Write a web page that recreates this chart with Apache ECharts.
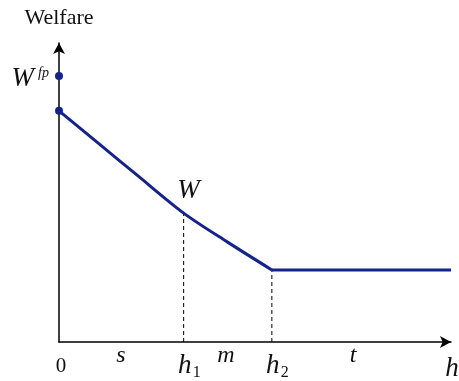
<!DOCTYPE html>
<html><head><meta charset="utf-8">
<script src="https://cdn.jsdelivr.net/npm/echarts@6/dist/echarts.min.js"></script>
<style>html,body{margin:0;padding:0;background:#fff}#c{width:459px;height:381px}</style>
</head><body><div id="c"></div>
<script>
// welfare curve W(h): declining segment then flat segment
const curveX = [0, 10, 20, 31.8, 43, 54.3];
const curveY = [77.3, 66.5, 55.7, 43.1, 33.4, 24.1];
const flatX = [54.3, 100];
const flatY = [24.1, 24.1];
// highlighted points on the vertical axis: W^fp and W(0)
const pointX = [0, 0];
const pointY = [89.0, 77.3];
// dashed guides at h1 and h2
const dashX = [31.8, 54.3];
const dashTopY = [43.1, 24.1];
// horizontal axis labels
const tickNames = ['0', 's', 'h', 'm', 'h', 't', 'h'];
const tickSubs  = ['',  '',  '1', '',  '2', '',  ''];
const tickX     = [0, 15.8, 31.8, 42.6, 54.3, 75.0, 100];
// curve label
const curveLabel = 'W';
const curveLabelX = 32.0;
const yAxisName = 'Welfare';
const fpLabel = ['W', 'fp'];

const BLUE = '#14228c';
const FONT = '"Liberation Serif", "DejaVu Serif", serif';

const chart = echarts.init(document.getElementById('c'), null, {renderer: 'canvas'});

const series = [];
dashX.forEach((x, i) => {
  series.push({
    type: 'line', data: [[x, 0], [x, dashTopY[i]]], symbol: 'none', silent: true, z: 1,
    lineStyle: {color: '#000', width: 1, type: [4, 3]}
  });
});
const lineStyle = {color: BLUE, width: 3, cap: 'butt', join: 'round'};
series.push({
  type: 'line', data: curveX.map((x, i) => [x, curveY[i]]), symbol: 'none', z: 3,
  smooth: 0.3, lineStyle: lineStyle, clip: false
});
series.push({
  type: 'line', data: flatX.map((x, i) => [x, flatY[i]]), symbol: 'none', z: 3,
  lineStyle: lineStyle, clip: false
});
series.push({
  type: 'scatter', data: pointX.map((x, i) => [x, pointY[i]]), symbolSize: 8, z: 4,
  itemStyle: {color: BLUE, opacity: 1}, clip: false
});

chart.setOption({
  animation: false,
  backgroundColor: '#fff',
  grid: {left: 59, right: 8, top: 43, bottom: 39},
  xAxis: {
    type: 'value', min: 0, max: 100,
    axisLine: {onZero: false, symbol: ['none', 'arrow'], symbolSize: [9, 11], lineStyle: {color: '#000', width: 1.5}},
    axisTick: {show: false}, axisLabel: {show: false}, splitLine: {show: false}
  },
  yAxis: {
    type: 'value', min: 0, max: 100,
    axisLine: {show: true, onZero: false, symbol: ['none', 'arrow'], symbolSize: [9, 11], lineStyle: {color: '#000', width: 1.5}},
    axisTick: {show: false}, axisLabel: {show: false}, splitLine: {show: false}
  },
  series: series
});

function px(x, y) { return chart.convertToPixel({gridIndex: 0}, [x, y]); }

const g = [];
function txt(x, y, text, size, italic, align) {
  g.push({type: 'text', x: x, y: y, z: 10, style: {
    text: text, fill: '#111', font: (italic ? 'italic ' : '') + size + 'px ' + FONT,
    align: align || 'center', verticalAlign: 'middle'}});
}
const axisY = px(0, 0)[1];
tickNames.forEach((n, i) => {
  const cx = px(tickX[i], 0)[0];
  if (n === '0') { txt(cx + 2, axisY + 24, n, 21, false); }
  else if (n === 'h') {
    const dy = tickSubs[i] ? 24 : 27;
    txt(cx + 1, axisY + dy, n, 27, true);
    if (tickSubs[i]) txt(cx + 9, axisY + 31, tickSubs[i], 16, false, 'left');
  } else { txt(cx, axisY + 14, n, 24, true); }
});
// y-axis name
const yTop = px(0, 100);
txt(yTop[0], 18, yAxisName, 22, false);
// W^fp
const fpPt = px(0, pointY[0]);
txt(fpPt[0] - 25, fpPt[1] + 3, fpLabel[0], 27, true, 'right');
txt(fpPt[0] - 21, fpPt[1] - 3, fpLabel[1], 14, true, 'left');
// W near curve
const wl = px(curveLabelX, curveY[3]);
txt(wl[0] + 4, wl[1] - 22, curveLabel, 27, true);

chart.setOption({graphic: g});
</script></body></html>
